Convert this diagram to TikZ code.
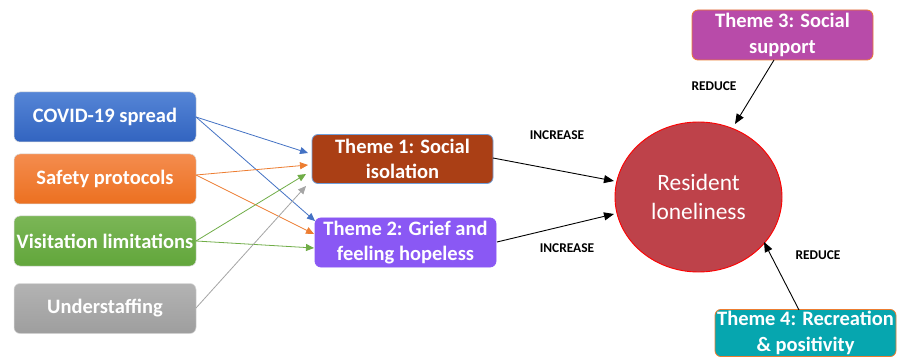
\documentclass[tikz,border=0pt]{standalone}
\usepackage{fontspec}
\setmainfont{Carlito}
\usetikzlibrary{arrows.meta,shapes.geometric}

\definecolor{covidTop}{HTML}{5585D6}
\definecolor{covidBot}{HTML}{3264C0}
\definecolor{safeTop}{HTML}{F48C4E}
\definecolor{safeBot}{HTML}{EC7020}
\definecolor{visitTop}{HTML}{7BB656}
\definecolor{visitBot}{HTML}{62A63B}
\definecolor{staffTop}{HTML}{B3B3B3}
\definecolor{staffBot}{HTML}{9E9E9E}
\definecolor{themeOne}{HTML}{AA3F15}
\definecolor{themeTwo}{HTML}{8A58F4}
\definecolor{themeThree}{HTML}{B84BA9}
\definecolor{themeFour}{HTML}{06A6AF}
\definecolor{lonely}{HTML}{BE424A}
\definecolor{arBlue}{HTML}{4472C4}
\definecolor{arOrange}{HTML}{ED7D31}
\definecolor{arGreen}{HTML}{70AD47}
\definecolor{arGray}{HTML}{A5A5A5}
\definecolor{edgeBlue}{HTML}{6FA0DC}

\tikzset{
  srcbox/.style={rounded corners=6pt, minimum width=182pt, minimum height=50pt,
    draw=white!85!black, line width=0.5pt, text=white, inner sep=2pt,
    font=\bfseries\fontsize{20.5}{25}\selectfont},
  themebox/.style={rounded corners=6pt, minimum width=181pt, minimum height=49pt,
    text=white, align=center, inner sep=2pt, line width=0.8pt,
    font=\bfseries\fontsize{20.5}{25.5}\selectfont},
  tag/.style={font=\bfseries\fontsize{13.4}{16}\selectfont, text=black},
  feed/.style={-{Triangle[length=8pt,width=7pt]}, line width=0.8pt},
  effect/.style={-{Triangle[length=10pt,width=8pt]}, line width=0.9pt, draw=black}
}

\begin{document}
\begin{tikzpicture}[x=1pt,y=-1pt]
\useasboundingbox (0,0) rectangle (897,358);
\fill[white] (0,0) rectangle (897,358);

% causes on the left
\node[srcbox, top color=covidTop, bottom color=covidBot] (covid) at (105,117) {COVID-19 spread};
\node[srcbox, top color=safeTop, bottom color=safeBot] (safety) at (105,179) {\raisebox{3pt}{Safety protocols}};
\node[srcbox, top color=visitTop, bottom color=visitBot] (visit) at (105,241) {Visitation limitations};
\node[srcbox, top color=staffTop, bottom color=staffBot] (staff) at (105,308.5) {\raisebox{2pt}{Understaffing}};

% themes that increase loneliness
\node[themebox, fill=themeOne, draw=edgeBlue] (t1) at (402.5,159) {Theme 1: Social\\isolation};
\node[themebox, fill=themeTwo, draw=themeTwo] (t2) at (405.5,242.5) {Theme 2: Grief and\\feeling hopeless};

% central outcome
\node[ellipse, fill=lonely, draw=red, line width=0.9pt, minimum width=167pt,
  minimum height=150pt, inner sep=0pt, text=white, align=center,
  font=\fontsize{23.4}{29}\selectfont] (lon) at (698.5,197) {Resident\\loneliness};

% themes that reduce loneliness
\node[themebox, fill=themeThree, draw=arOrange, minimum width=181pt, minimum height=50pt] (t3) at (782.5,35) {Theme 3: Social\\support};
\node[themebox, fill=themeFour, draw=arOrange, minimum width=181pt, minimum height=46pt] (t4) at (805.5,333) {Theme 4: Recreation\\\& positivity};

% anchor points on the boxes
\coordinate (covidE) at (196,117);
\coordinate (safeE) at (196,175);
\coordinate (visitE) at (196,241);
\coordinate (staffE) at (196,308);
\coordinate (t1a) at (308,153);
\coordinate (t1b) at (308,165);
\coordinate (t1c) at (306,174);
\coordinate (t1d) at (306,186);
\coordinate (t2a) at (315,221);
\coordinate (t2b) at (314,234);
\coordinate (t2c) at (314,248);

\draw[feed, arBlue] (covidE) -- (t1a);
\draw[feed, arBlue] (covidE) -- (t2a);
\draw[feed, arOrange] (safeE) -- (t1b);
\draw[feed, arOrange] (safeE) -- (t2b);
\draw[feed, arGreen] (visitE) -- (t1c);
\draw[feed, arGreen] (visitE) -- (t2c);
\draw[feed, arGray] (staffE) -- (t1d);

% effects on loneliness
\coordinate (t1out) at (493,158);
\coordinate (t2out) at (497,242);
\coordinate (lonA) at (614,181);
\coordinate (lonB) at (614,214);
\coordinate (t3out) at (774,60);
\coordinate (lonTop) at (735,124);
\coordinate (t4out) at (799,310);
\coordinate (lonBot) at (764,242);
\draw[effect] (t1out) -- (lonA);
\draw[effect] (t2out) -- (lonB);
\draw[effect] (t3out) -- (lonTop);
\draw[effect] (t4out) -- (lonBot);

\node[tag] (inc1) at (557,135) {INCREASE};
\node[tag] (inc2) at (567,248) {INCREASE};
\node[tag] (red1) at (714,86) {REDUCE};
\node[tag] (red2) at (818,255) {REDUCE};
\end{tikzpicture}
\end{document}
